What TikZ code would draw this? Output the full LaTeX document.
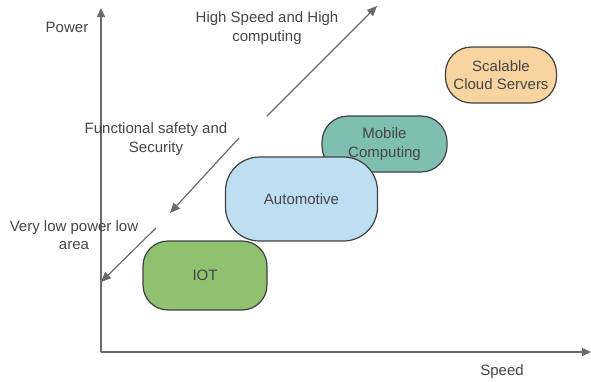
\documentclass[tikz,border=0pt]{standalone}
\usepackage{fontspec}
\setmainfont{Liberation Sans}
\usetikzlibrary{arrows.meta}

\definecolor{lineagrigia}{HTML}{6A6A6A}
\definecolor{testo}{HTML}{454545}
\definecolor{verdeiot}{HTML}{8FC16F}
\definecolor{azzurroauto}{HTML}{BEDFF1}
\definecolor{verdemobile}{HTML}{7FBFB1}
\definecolor{aranciocloud}{HTML}{F8D5A0}

\tikzset{
	etichetta/.style={font=\fontsize{15}{18.5}\selectfont, text=testo, align=center},
	blocco/.style={etichetta, draw=black!75, line width=1.2pt, rounded corners=#1, inner sep=0pt},
	blocco/.default=26pt,
	asse/.style={draw=lineagrigia, line width=1.4pt, -{Triangle[length=9pt,width=8pt]}},
	freccia/.style={draw=lineagrigia, line width=1.2pt, -{Triangle[length=10pt,width=8.5pt]}}
}

\begin{document}
\begin{tikzpicture}[x=1pt, y=-1pt]
				\useasboundingbox (0, 0) rectangle (591, 381);
				
				% Assi del grafico
				\coordinate (origine) at (101, 352);
				\coordinate (cimaY) at (101, 8);
				\coordinate (fineX) at (591, 352);
				\draw[asse] (origine) -- (cimaY);
				\draw[asse] (origine) -- (fineX);
				\node[etichetta] (power) at (67, 27) {Power};
				\node[etichetta] (speed) at (502, 372) {Speed};
				
				% Frecce diagonali con le loro didascalie
				\coordinate (hsA) at (267, 116);
				\coordinate (hsB) at (377, 6);
				\coordinate (fsA) at (239, 138);
				\coordinate (fsB) at (170, 213);
				\coordinate (vlA) at (156, 228);
				\coordinate (vlB) at (101, 282);
				\draw[freccia] (hsA) -- (hsB);
				\draw[freccia] (fsA) -- (fsB);
				\draw[freccia] (vlA) -- (vlB);
				\node[etichetta] (alta) at (267, 28) {High Speed and High\\computing};
				\node[etichetta] (sicurezza) at (156, 139) {Functional safety and\\Security};
				\node[etichetta] (bassa) at (74, 235) {Very low power low\\area};
				
				% Blocchi delle applicazioni, dal fondo verso l'alto
				\node[blocco=26pt, fill=verdemobile, minimum width=125pt, minimum height=56pt] (mobile) at (384.5, 144) {Mobile\\Computing};
				\node[blocco=34pt, fill=azzurroauto, minimum width=152pt, minimum height=84pt] (auto) at (301.5, 199) {Automotive};
				\node[blocco=25pt, fill=verdeiot, minimum width=124pt, minimum height=69pt] (iot) at (205, 275.5) {IOT};
				\node[blocco=26pt, fill=aranciocloud, minimum width=111pt, minimum height=56pt] (cloud) at (501, 75) {Scalable\\Cloud Servers};
			\end{tikzpicture}
\end{document}
